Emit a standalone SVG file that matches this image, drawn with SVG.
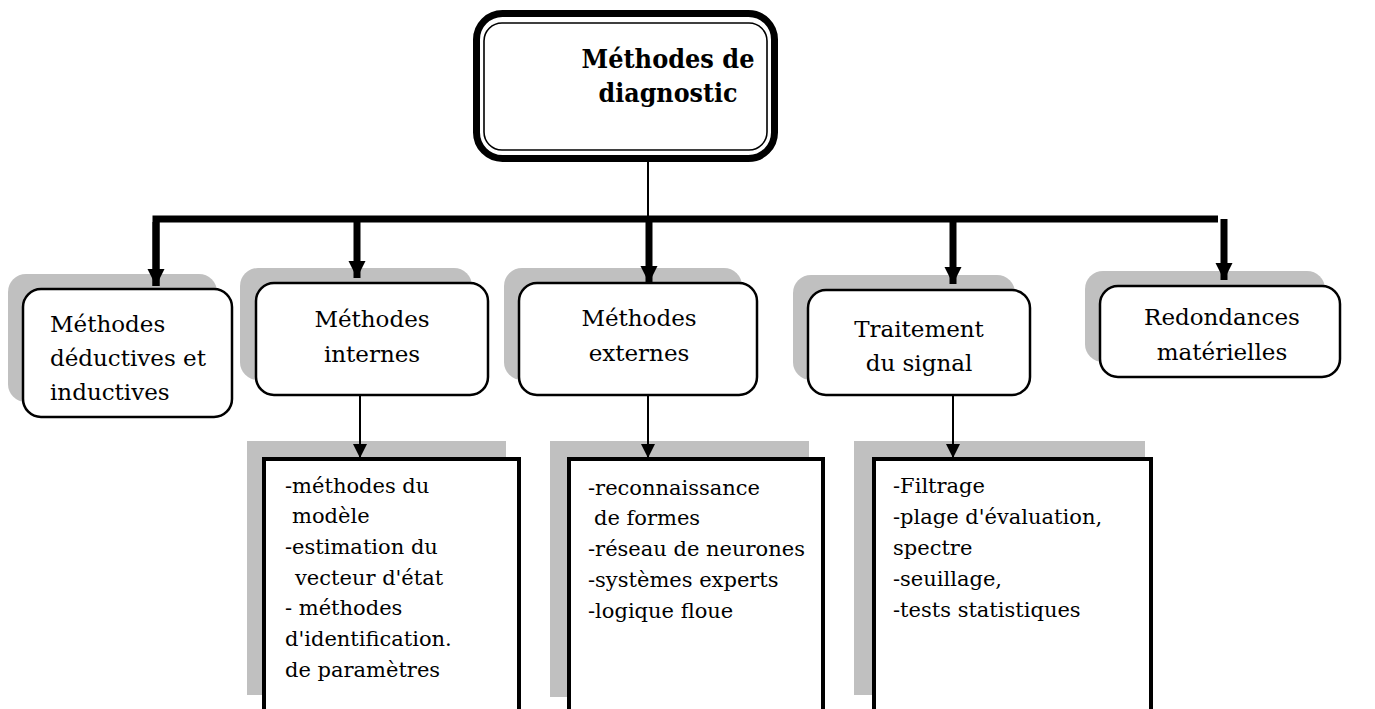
<svg xmlns="http://www.w3.org/2000/svg" width="1375" height="709" viewBox="0 0 1375 709">
  <style>
    text { font-family: 'DejaVu Serif', serif; fill: #000; }
    .title { font-size: 26px; font-weight: bold; text-anchor: middle; }
    .lvl1 { font-size: 23px; }
    .mid { text-anchor: middle; }
    .lvl2 { font-size: 21px; }
    .shadow { fill: #c0c0c0; stroke: none; }
    .card { fill: #fff; stroke: #000; stroke-width: 2.5; }
    .list { fill: #fff; stroke: #000; stroke-width: 4; }
    .bus { stroke: #000; stroke-width: 7; fill: none; }
    .thin { stroke: #000; stroke-width: 2; fill: none; }
  </style>
  <defs>
    <marker id="headBig" viewBox="0 0 10 10" refX="10" refY="5" markerUnits="userSpaceOnUse" markerWidth="17" markerHeight="19" orient="auto">
      <path d="M0,0 L10,5 L0,10 Z" fill="#000"/>
    </marker>
    <marker id="headSmall" viewBox="0 0 10 10" refX="10" refY="5" markerUnits="userSpaceOnUse" markerWidth="14" markerHeight="16" orient="auto">
      <path d="M0,0 L10,5 L0,10 Z" fill="#000"/>
    </marker>
  </defs>

  <rect width="1375" height="709" fill="#fff"/>

  <!-- root -->
  <g id="root">
    <rect x="476.5" y="13.5" width="298" height="145" rx="26" fill="#fff" stroke="#000" stroke-width="7"/>
    <rect x="484" y="23" width="283" height="127" rx="18" fill="none" stroke="#000" stroke-width="1.6"/>
    <text class="title" x="668" y="68" textLength="173" lengthAdjust="spacingAndGlyphs">Méthodes de</text>
    <text class="title" x="668" y="102" textLength="139" lengthAdjust="spacingAndGlyphs">diagnostic</text>
  </g>

  <!-- first level -->
  <g id="deductives">
    <rect class="shadow" x="8" y="274" width="209" height="128" rx="18"/>
    <rect class="card" x="23" y="289" width="209" height="128" rx="18"/>
    <text class="lvl1" x="50" y="332">Méthodes</text>
    <text class="lvl1" x="50" y="366">déductives et</text>
    <text class="lvl1" x="50" y="400">inductives</text>
  </g>

  <g id="internes">
    <rect class="shadow" x="240" y="268" width="232" height="112" rx="18"/>
    <rect class="card" x="256" y="283" width="232" height="112" rx="18"/>
    <text class="lvl1 mid" x="372" y="327">Méthodes</text>
    <text class="lvl1 mid" x="372" y="362">internes</text>
  </g>

  <g id="externes">
    <rect class="shadow" x="504" y="268" width="238" height="112" rx="18"/>
    <rect class="card" x="519" y="283" width="238" height="112" rx="18"/>
    <text class="lvl1 mid" x="639" y="326">Méthodes</text>
    <text class="lvl1 mid" x="639" y="361">externes</text>
  </g>

  <g id="signal">
    <rect class="shadow" x="793" y="275" width="222" height="105" rx="18"/>
    <rect class="card" x="808" y="290" width="222" height="105" rx="18"/>
    <text class="lvl1 mid" x="919" y="337">Traitement</text>
    <text class="lvl1 mid" x="919" y="371">du signal</text>
  </g>

  <g id="redondances">
    <rect class="shadow" x="1085" y="271" width="240" height="91" rx="18"/>
    <rect class="card" x="1100" y="286" width="240" height="91" rx="18"/>
    <text class="lvl1 mid" x="1222" y="325">Redondances</text>
    <text class="lvl1 mid" x="1222" y="360">matérielles</text>
  </g>

  <!-- second level -->
  <g id="internes-list">
    <rect class="shadow" x="247" y="441" width="259" height="254"/>
    <rect class="list" x="264" y="459" width="255" height="260"/>
    <g class="lvl2">
      <text x="285" y="493">-méthodes du</text>
      <text x="292" y="523">modèle</text>
      <text x="285" y="554">-estimation du</text>
      <text x="295" y="585">vecteur d'état</text>
      <text x="285" y="615">- méthodes</text>
      <text x="285" y="646">d'identification.</text>
      <text x="285" y="677">de paramètres</text>
    </g>
  </g>

  <g id="externes-list">
    <rect class="shadow" x="550" y="441" width="259" height="256"/>
    <rect class="list" x="569" y="459" width="254" height="260"/>
    <g class="lvl2">
      <text x="588" y="495">-reconnaissance</text>
      <text x="594" y="525">de formes</text>
      <text x="588" y="556">-réseau de neurones</text>
      <text x="588" y="587">-systèmes experts</text>
      <text x="588" y="618">-logique floue</text>
    </g>
  </g>

  <g id="signal-list">
    <rect class="shadow" x="854" y="441" width="291" height="254"/>
    <rect class="list" x="874" y="459" width="277" height="260"/>
    <g class="lvl2">
      <text x="893" y="493">-Filtrage</text>
      <text x="893" y="524">-plage d'évaluation,</text>
      <text x="893" y="555">spectre</text>
      <text x="893" y="586">-seuillage,</text>
      <text x="893" y="617">-tests statistiques</text>
    </g>
  </g>

  <!-- connectors -->
  <g id="connectors">
    <line class="thin" x1="648" y1="162" x2="648" y2="216"/>
    <polyline class="bus" points="156,286 156,219 1218,219"/>
    <line class="bus" x1="156" y1="222" x2="156" y2="286" marker-end="url(#headBig)"/>
    <line class="bus" x1="357" y1="219" x2="357" y2="278" marker-end="url(#headBig)"/>
    <line class="bus" x1="649" y1="219" x2="649" y2="283" marker-end="url(#headBig)"/>
    <line class="bus" x1="953" y1="219" x2="953" y2="284" marker-end="url(#headBig)"/>
    <line class="bus" x1="1224" y1="219" x2="1224" y2="280" marker-end="url(#headBig)"/>
    <line class="thin" x1="360" y1="395" x2="360" y2="458" marker-end="url(#headSmall)"/>
    <line class="thin" x1="648" y1="395" x2="648" y2="458" marker-end="url(#headSmall)"/>
    <line class="thin" x1="953" y1="395" x2="953" y2="458" marker-end="url(#headSmall)"/>
  </g>
</svg>
